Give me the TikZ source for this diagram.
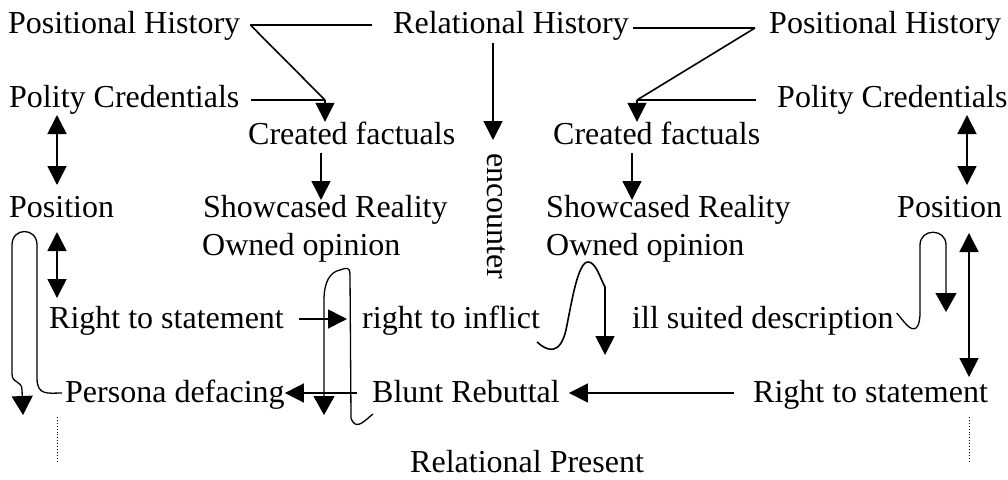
\documentclass[tikz,border=0pt]{standalone}
\usepackage{fontspec}
\setmainfont{Liberation Serif}
\usetikzlibrary{arrows.meta}
\begin{document}
\begin{tikzpicture}[x=1pt,y=-1pt,
  lbl/.style={inner sep=0pt,anchor=base west,text height=22pt,text depth=7pt,
    font=\fontsize{32}{38}\selectfont},
  link/.style={line width=1.6pt},
  arr/.style={line width=1.6pt,-{Triangle[length=19pt,width=19pt]}},
  dbl/.style={line width=1.6pt,{Triangle[length=19pt,width=19pt]}-{Triangle[length=19pt,width=19pt]}},
  looparr/.style={line width=1.3pt,line join=round,-{Triangle[length=19pt,width=21pt]}},
  trail/.style={line width=0.9pt,dotted}]
\useasboundingbox (0,0) rectangle (1008,479);

% ---- labels ----
\node[lbl] (ph1) at (8,33)   {Positional History};
\node[lbl] (rh)  at (393,33) {Relational History};
\node[lbl] (ph2) at (769,33) {Positional History};
\node[lbl] (pc1) at (9,107)  {Polity Credentials};
\node[lbl] (pc2) at (777,107){Polity Credentials};
\node[lbl] (cf1) at (248,144){Created factuals};
\node[lbl] (cf2) at (553,144){Created factuals};
\node[lbl,rotate=-90] (enc) at (487,153) {encounter};
\node[lbl] (po1) at (9,217)  {Position};
\node[lbl] (sr1) at (203,217){Showcased Reality};
\node[lbl] (sr2) at (546,217){Showcased Reality};
\node[lbl] (po2) at (897,217){Position};
\node[lbl] (oo1) at (202,255){Owned opinion};
\node[lbl] (oo2) at (546,255){Owned opinion};
\node[lbl] (rs1) at (49,328) {Right to statement};
\node[lbl] (ri)  at (362,328){right to inflict};
\node[lbl] (isd) at (632,328){ill suited description};
\node[lbl] (pd)  at (65,402) {Persona defacing};
\node[lbl] (br)  at (372,402){Blunt Rebuttal};
\node[lbl] (rs2) at (753,402){Right to statement};
\node[lbl,text depth=0pt] (rp) at (410,472){Relational Present};

% ---- junctions and free ends ----
\coordinate (jL)  at (325,100);
\coordinate (jR1) at (755,28);
\coordinate (jR2) at (637,100);
\coordinate (loopL) at (23,415);
\coordinate (midA) at (373,414);
\coordinate (midB) at (324,415);
\coordinate (sA) at (537,342);
\coordinate (sB) at (605,355);
\coordinate (loopR) at (946,312);
\coordinate (dotL1) at (57,417);
\coordinate (dotL2) at (57,463);
\coordinate (dotR1) at (969,417);
\coordinate (dotR2) at (969,463);

% ---- upper left: histories and credentials into created factuals ----
\draw[link] ([xshift=10pt,yshift=8pt]ph1.base east) -- ([xshift=-21pt,yshift=8pt]rh.base west);
\draw[link] ([xshift=10pt,yshift=8pt]ph1.base east) -- (jL);
\draw[link] ([xshift=11pt,yshift=7pt]pc1.base east) -- (jL);
\draw[arr]  (jL) -- (jL |- cf1.north);

% ---- upper right ----
\draw[link] ([xshift=4pt,yshift=5pt]rh.base east) -- (jR1);
\draw[link] (jR1) -- (jR2);
\draw[link] ([xshift=-21pt,yshift=7pt]pc2.base west) -- (jR2);
\draw[arr]  (jR2) -- (jR2 |- cf2.north);

% ---- relational history to encounter ----
\draw[arr] ([xshift=100pt,yshift=-10pt]rh.base west) -- ([xshift=6pt,yshift=13pt]enc.base west);

% ---- created factuals to showcased reality ----
\draw[arr] ([xshift=73pt,yshift=-9pt]cf1.base west) -- ([xshift=118pt,yshift=17pt]sr1.base west);
\draw[arr] ([xshift=79pt,yshift=-9pt]cf2.base west) -- ([xshift=86pt,yshift=17pt]sr2.base west);

% ---- left column ----
\draw[dbl] ([xshift=48pt,yshift=-8pt]pc1.base west) -- ([xshift=48pt,yshift=32pt]po1.base west);
\draw[dbl] ([xshift=48pt,yshift=-15pt]po1.base west) -- ([xshift=8pt,yshift=30pt]rs1.base west);
\draw[arr] ([xshift=15pt,yshift=9pt]rs1.base east) -- ([xshift=-15pt,yshift=9pt]ri.base west);

% ---- right column ----
\draw[dbl] ([xshift=190pt,yshift=-8pt]pc2.base west) -- ([xshift=70pt,yshift=32pt]po2.base west);
\draw[dbl] ([xshift=72pt,yshift=-16pt]po2.base west) -- ([xshift=216pt,yshift=25pt]rs2.base west);

% ---- bottom row ----
\draw[arr] ([xshift=-15pt,yshift=9pt]br.base west) -- ([xshift=0pt,yshift=9pt]pd.base east);
\draw[arr] ([xshift=-19pt,yshift=9pt]rs2.base west) -- ([xshift=9pt,yshift=9pt]br.base east);

% ---- hand-drawn loops ----
\draw[looparr] ([xshift=-3pt,yshift=9pt]pd.base west)
  .. controls (48,393) and (37,396) .. (37,378) -- (37,245)
  .. controls (37,227) and (12,227) .. (12,245) -- (12,374)
  .. controls (12,384) and (22,380) .. (22,390) -- (loopL);

\draw[looparr] (midA) .. controls (365,420) and (356,432) .. (351,418)
  -- (350,275) .. controls (350,266) and (346,268) .. (340,270)
  .. controls (330,272) and (324,282) .. (324,300) -- (midB);

\draw[arr] (sA) .. controls (548,352) and (560,355) .. (566,330)
  .. controls (572,300) and (578,262) .. (588,262)
  .. controls (596,262) and (600,278) .. (605,287) -- (sB);

\draw[looparr] ([xshift=3pt,yshift=15pt]isd.base east)
  .. controls (903,320) and (910,332) .. (916,328)
  .. controls (921,324) and (920,310) .. (920,300) -- (920,245)
  .. controls (920,228) and (946,228) .. (946,245) -- (loopR);

% ---- trailing dotted marks ----
\draw[trail] (dotL1) -- (dotL2);
\draw[trail] (dotR1) -- (dotR2);
\end{tikzpicture}
\end{document}
